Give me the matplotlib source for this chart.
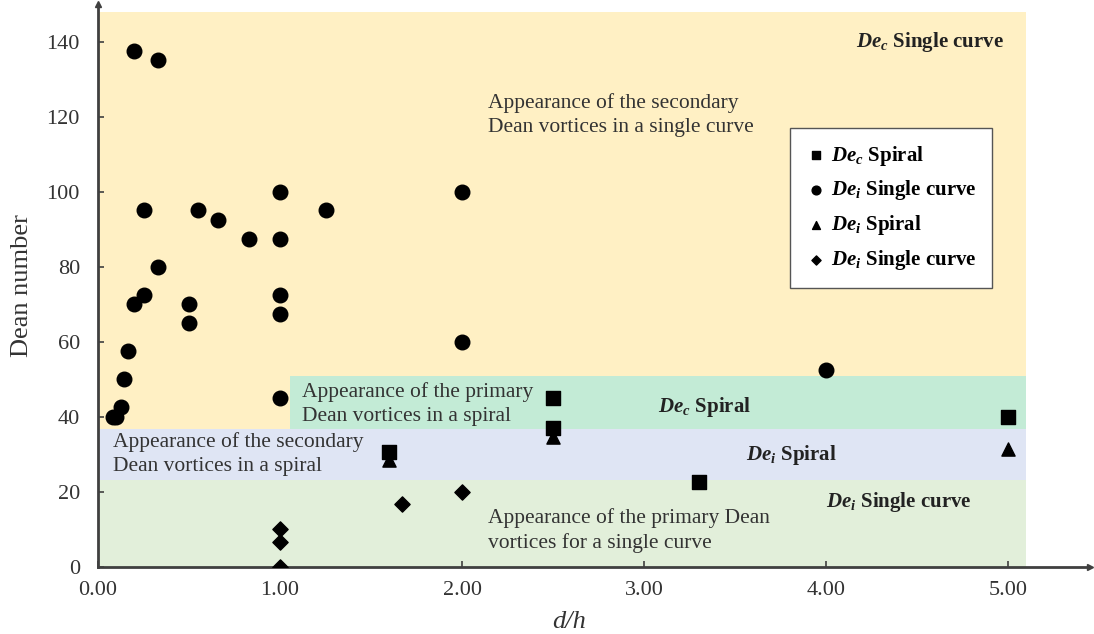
import matplotlib
matplotlib.use('Agg')
import matplotlib.pyplot as plt
from matplotlib.patches import Rectangle

plt.rcParams['font.family'] = ['Liberation Serif', 'DejaVu Serif']
plt.rcParams['mathtext.fontset'] = 'custom'
plt.rcParams['mathtext.rm'] = 'Liberation Serif'
plt.rcParams['mathtext.it'] = 'Liberation Serif:italic'
plt.rcParams['mathtext.bf'] = 'Liberation Serif:bold'
plt.rcParams['mathtext.bfit'] = 'Liberation Serif:italic:bold'

# De_i, single curve (circles)
circ_x = [0.20, 0.33, 0.25, 0.55, 0.66, 0.83, 1.00, 1.00, 1.25, 0.33, 0.25, 0.20,
          0.50, 0.50, 1.00, 1.00, 1.00, 2.00, 2.00, 4.00, 0.08, 0.10, 0.125, 0.145, 0.165]
circ_y = [137.5, 135.0, 95.0, 95.0, 92.5, 87.5, 87.5, 100.0, 95.0, 80.0, 72.5, 70.0,
          70.0, 65.0, 72.5, 67.5, 45.0, 100.0, 60.0, 52.5, 40.0, 40.0, 42.5, 50.0, 57.5]

# De_c, spiral (squares)
sq_x = [1.60, 2.50, 2.50, 3.30, 5.00]
sq_y = [30.7, 45.0, 37.0, 22.7, 40.0]

# De_i, spiral (triangles)
tri_x = [1.60, 2.50, 5.00]
tri_y = [28.5, 34.5, 31.5]

# De_i, single curve (diamonds)
dia_x = [1.00, 1.00, 1.00, 1.67, 2.00]
dia_y = [0.0, 6.5, 10.0, 16.7, 20.0]

# regime bands: (x0, x1, y0, y1, colour)
bands = [
    (0.0, 5.10, 36.6, 148.0, '#FFF0C4'),
    (1.055, 5.10, 36.6, 50.8, '#C3EBD6'),
    (0.0, 5.10, 23.1, 36.6, '#DFE5F4'),
    (0.0, 5.10, 0.0, 23.1, '#E2EFDA'),
]

fig = plt.figure(figsize=(10.94, 6.34), dpi=100)
ax = fig.add_axes([0.0896, 0.1062, 0.9067, 0.8872])

for x0, x1, y0, y1, col in bands:
    ax.add_patch(Rectangle((x0, y0), x1 - x0, y1 - y0, facecolor=col, edgecolor='none', zorder=0))

ax.scatter(sq_x, sq_y, marker='s', s=100, color='black', zorder=3,
           label=r'$\mathbfit{De}_{\mathbfit{c}}$ Spiral')
ax.scatter(circ_x, circ_y, marker='o', s=110, color='black', zorder=3,
           label=r'$\mathbfit{De}_{\mathbfit{i}}$ Single curve')
ax.scatter(tri_x, tri_y, marker='^', s=90, color='black', zorder=3,
           label=r'$\mathbfit{De}_{\mathbfit{i}}$ Spiral')
ax.scatter(dia_x, dia_y, marker='D', s=60, color='black', zorder=3,
           label=r'$\mathbfit{De}_{\mathbfit{i}}$ Single curve')

txt = dict(fontsize=15.5, color='#333333', linespacing=1.35)
ax.text(2.14, 126.3, 'Appearance of the secondary\nDean vortices in a single curve', va='top', **txt)
ax.text(1.12, 43.4, 'Appearance of the primary\nDean vortices in a spiral', va='center', **txt)
ax.text(0.08, 30.0, 'Appearance of the secondary\nDean vortices in a spiral', va='center', **txt)
ax.text(2.14, 9.6, 'Appearance of the primary Dean\nvortices for a single curve', va='center', **txt)

lab = dict(fontsize=15, fontweight='bold', color='#222222', va='center')
ax.text(4.98, 140.0, r'$\mathbfit{De}_{\mathbfit{c}}$ Single curve', ha='right', **lab)
ax.text(3.33, 42.7, r'$\mathbfit{De}_{\mathbfit{c}}$ Spiral', ha='center', **lab)
ax.text(3.81, 29.8, r'$\mathbfit{De}_{\mathbfit{i}}$ Spiral', ha='center', **lab)
ax.text(4.40, 17.3, r'$\mathbfit{De}_{\mathbfit{i}}$ Single curve', ha='center', **lab)

leg = ax.legend(loc='upper left', bbox_to_anchor=(0.698, 0.78), fancybox=False,
                framealpha=1, edgecolor='#555555', prop={'weight': 'bold', 'size': 15},
                handletextpad=0.2, labelspacing=0.52, borderpad=0.75, markerscale=0.6,
                handlelength=1.0, borderaxespad=0)
leg.get_frame().set_linewidth(1.0)

ax.set_xlim(0, 5.45)
ax.set_ylim(0, 150)
ax.set_xticks([0, 1, 2, 3, 4, 5])
ax.set_xticklabels(['0.00', '1.00', '2.00', '3.00', '4.00', '5.00'])
ax.set_yticks(range(0, 141, 20))
ax.tick_params(direction='in', length=4, width=1.2, colors='#404040',
               labelsize=16, labelcolor='#333333')
ax.tick_params(axis='x', pad=10)
ax.tick_params(axis='y', pad=13)

for side in ['top', 'right']:
    ax.spines[side].set_visible(False)
for side in ['left', 'bottom']:
    ax.spines[side].set_color('#404040')
    ax.spines[side].set_linewidth(2)
ax.plot(1, 0, '>', color='#404040', markersize=5, transform=ax.get_yaxis_transform(), clip_on=False)
ax.plot(0, 1, '^', color='#404040', markersize=5, transform=ax.get_xaxis_transform(), clip_on=False)

ax.set_ylabel('Dean number', fontsize=19, color='#333333')
ax.yaxis.set_label_coords(-0.066, 0.5)
ax.set_xlabel('d/h', fontsize=19, style='italic', color='#333333')
ax.xaxis.set_label_coords(0.475, -0.078)

fig.savefig('out.png', dpi=100)
